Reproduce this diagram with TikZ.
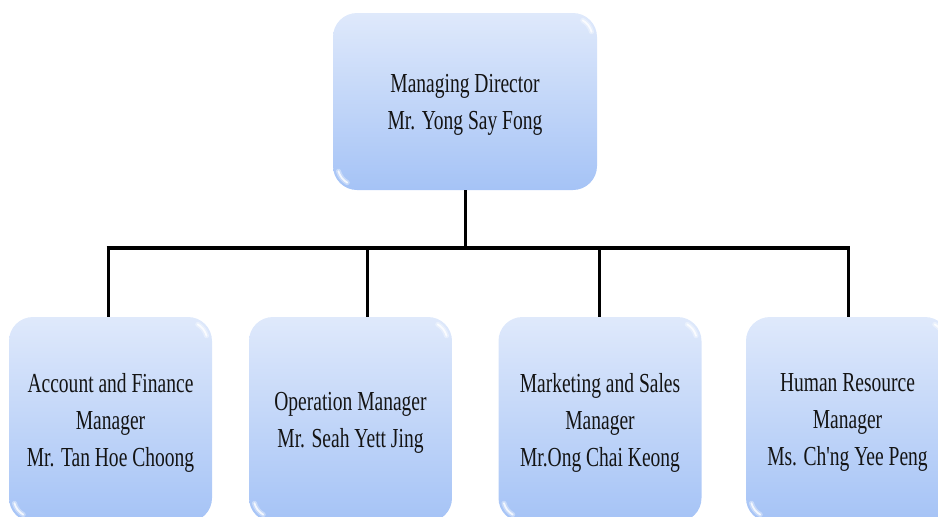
\documentclass[tikz,border=0pt]{standalone}
\usepackage{fontspec}
\newfontfamily\chartfont[FakeStretch=0.71]{Liberation Serif}
\usepackage{tikz}
\usetikzlibrary{calc, shapes}
\definecolor{boxtop}{HTML}{DFE9FB}
\definecolor{boxbot}{HTML}{A5C3F6}
\definecolor{ink}{HTML}{141414}
\tikzset{>=latex}
\tikzset{
  post/.style = {rectangle, rounded corners=24pt, top color=boxtop, bottom color=boxbot,
    draw=none, align=center, text=ink, inner sep=0pt, text depth=-6pt,
    font=\chartfont\fontsize{27.5}{37}\selectfont},
  head/.style = {post, minimum width=264pt, minimum height=177pt},
  staff/.style = {post, minimum width=203pt, minimum height=205pt},
  bus/.style = {line width=4pt},
  link/.style = {line width=3pt},
  glow/.style = {white, line cap=round, opacity=0.35, line width=5pt},
  gloss/.style = {white, line cap=round, opacity=0.8, line width=1.8pt}
}

\begin{document}
\begin{tikzpicture}[x=1pt, y=-1pt]
\useasboundingbox (0,0) rectangle (938,517);
\clip (0,0) rectangle (938,517);
\node[head] (md) at (465, 101.5) {Managing Director\\Mr. Yong Say Fong};
\node[staff] (acc) at (110.5, 419.5) {Account and Finance\\Manager\\Mr. Tan Hoe Choong};
\node[staff] (ops) at (350.5, 419.5) {Operation Manager\\Mr. Seah Yett Jing};
\node[staff] (mkt) at (600, 419.5) {Marketing and Sales\\Manager\\Mr.Ong Chai Keong};
\node[staff] (hrm) at (847.5, 419.5) {Human Resource\\Manager\\Ms. Ch'ng Yee Peng};
% shine on the corners
\foreach \n in {md, acc, ops, mkt, hrm} {
  \foreach \s in {glow, gloss} {
    \draw[\s] ($(\n.north east)+(-24,24)$) ++(-15:19) arc[start angle=-15, end angle=-60, radius=19];
    \draw[\s] ($(\n.south west)+(24,-24)$) ++(165:19) arc[start angle=165, end angle=120, radius=19];
  }
}
% taps on the bus
\coordinate (t1) at (108, 248);
\coordinate (t2) at (367, 248);
\coordinate (t3) at (599, 248);
\coordinate (t4) at (848, 248);
\draw[link] (md.south) -- (md.south |- t1);
\draw[bus] ($(t1)+(-1.5,0)$) -- ($(t4)+(1.5,0)$);
\draw[link] (t1) -- (t1 |- acc.north);
\draw[link] (t2) -- (t2 |- ops.north);
\draw[link] (t3) -- (t3 |- mkt.north);
\draw[link] (t4) -- (t4 |- hrm.north);
\end{tikzpicture}
\end{document}
